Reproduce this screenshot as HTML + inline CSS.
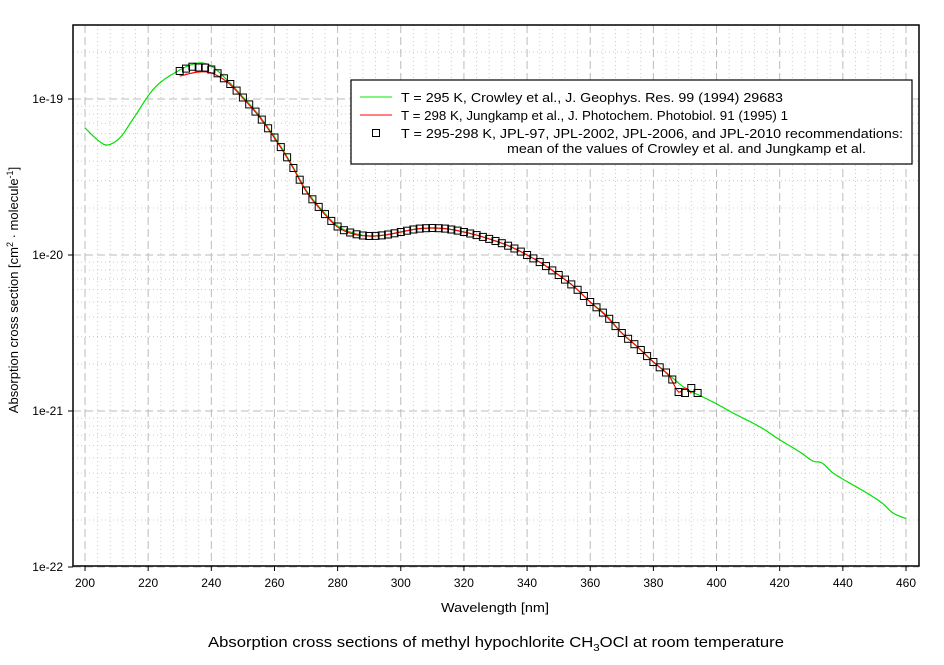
<!DOCTYPE html>
<html><head><meta charset="utf-8"><style>
body{margin:0;background:#fff;}
svg text{font-family:"Liberation Sans",Arial,sans-serif;}
</style></head><body>
<svg id="s" width="944" height="660" xmlns="http://www.w3.org/2000/svg">
<rect width="944" height="660" fill="#fff"/>
<g id="grid"></g>
<g id="data"></g>
<rect x="73" y="25" width="846" height="541" fill="none" stroke="#000" stroke-width="1.5"/>
<g id="ticks" font-size="12"></g>
<text x="495" y="612" font-size="12.5" text-anchor="middle" textLength="108" lengthAdjust="spacingAndGlyphs">Wavelength [nm]</text>
<text transform="translate(18,290) rotate(-90)" font-size="13" text-anchor="middle">Absorption cross section [cm<tspan dy="-5" font-size="9">2</tspan><tspan dy="5"> · molecule</tspan><tspan dy="-5" font-size="9">-1</tspan><tspan dy="5">]</tspan></text>
<text x="208" y="647" font-size="14.5" textLength="576" lengthAdjust="spacingAndGlyphs">Absorption cross sections of methyl hypochlorite CH<tspan dy="4" font-size="10">3</tspan><tspan dy="-4">OCl at room temperature</tspan></text>
<g>
<rect x="351" y="80" width="561" height="84" fill="#fff" stroke="#000" stroke-width="1.2"/>
<line x1="360" y1="97" x2="392" y2="97" stroke="#00ee00" stroke-width="1"/>
<line x1="360" y1="115" x2="392" y2="115" stroke="#ff0000" stroke-width="1"/>
<rect x="372.5" y="129.5" width="7" height="7" fill="none" stroke="#000"/>
<g font-size="13">
<text x="401" y="102" textLength="382" lengthAdjust="spacingAndGlyphs">T = 295 K, Crowley et al., J. Geophys. Res. 99 (1994) 29683</text>
<text x="401" y="120" textLength="387" lengthAdjust="spacingAndGlyphs">T = 298 K, Jungkamp et al., J. Photochem. Photobiol. 91 (1995) 1</text>
<text x="401" y="138" textLength="502" lengthAdjust="spacingAndGlyphs">T = 295-298 K, JPL-97, JPL-2002, JPL-2006, and JPL-2010 recommendations:</text>
<text x="507" y="153" textLength="359" lengthAdjust="spacingAndGlyphs">mean of the values of Crowley et al. and Jungkamp et al.</text>
</g>
</g>
</svg>
<script>
var NS="http://www.w3.org/2000/svg";
function X(w){return 85+(w-200)*(821/260);}
function Yl(l){return 99+(-19-l)*156;}
function el(p,t,a,txt){var e=document.createElementNS(NS,t);for(var k in a)e.setAttribute(k,a[k]);if(txt!==undefined)e.textContent=txt;p.appendChild(e);return e;}
var g=document.getElementById('grid'),tk=document.getElementById('ticks');
for(var w=200;w<=460;w+=4){var x=X(w);var maj=(w%20==0);
 el(g,'line',{x1:x,y1:25,x2:x,y2:566,stroke:maj?'#bbb':'#ccc','stroke-width':1,'stroke-dasharray':maj?'8,4':'1,3'});
 if(maj){el(tk,'line',{x1:x,y1:566,x2:x,y2:571,stroke:'#000'});el(tk,'text',{x:x,y:587,'text-anchor':'middle'},String(w));}}
for(var d=-22;d<=-19;d++){for(var m=1;m<=9;m++){var y=Yl(d+Math.log10(m));if(y<25)continue;
 el(g,'line',{x1:73,y1:y,x2:919,y2:y,stroke:m==1?'#bbb':'#ccc','stroke-width':1,'stroke-dasharray':m==1?'8,4':'1,3'});
 if(m==1){el(tk,'line',{x1:68,y1:y,x2:73,y2:y,stroke:'#000'});el(tk,'text',{x:63,y:y+4,'text-anchor':'end'},'1e'+d);}}}
var G=[[200,128],[204,140],[207,145],[211,138],[215,120],[222,88],[230,70],[236,63],[240,66],[245,80],[250,97],[255,115],[260,137],[265,162],[270,190],[275,210],[280,226],[285,233],[290,236],[295,235],[300,232],[305,229],[310,228],[315,229],[320,232],[325,236],[330,241],[335,247],[340,255],[345,264],[350,275],[355,287],[360,302],[365,315],[370,333],[375,347],[380,362],[385,375],[390,388],[395.7,397],[400.1,404],[405.2,413],[413.8,427],[420.1,440],[426.4,452],[430.5,461],[433.4,463],[436.9,473],[447.6,493],[452.4,503],[455.9,513],[460.3,519]];
var R=[[230,76],[236,72],[240,73],[245,82],[250,98],[255,116],[260,138],[265,163],[270,191],[275,211],[280,227],[285,234],[290,236],[295,235],[300,232],[305,229],[310,228],[315,229],[320,232],[325,236],[330,241],[335,247],[340,255],[345,264],[350,275],[355,287],[360,302],[365,316],[370,333],[375,347],[380,362],[385,376],[388,392],[390,388],[392,393]];
function interp(P,w){for(var i=0;i<P.length-1;i++){if(w>=P[i][0]&&w<=P[i+1][0]){var p0=P[Math.max(0,i-1)],p1=P[i],p2=P[i+1],p3=P[Math.min(P.length-1,i+2)];var t=(w-p1[0])/(p2[0]-p1[0]);
 var m1=(p2[1]-p0[1])/(p2[0]-p0[0])*(p2[0]-p1[0]),m2=(p3[1]-p1[1])/(p3[0]-p1[0])*(p2[0]-p1[0]);
 var t2=t*t,t3=t2*t;return (2*t3-3*t2+1)*p1[1]+(t3-2*t2+t)*m1+(-2*t3+3*t2)*p2[1]+(t3-t2)*m2;}}return P[P.length-1][1];}
function path(P,c){var s='';for(var w=P[0][0];w<=P[P.length-1][0];w+=0.5){s+=(s?'L':'M')+X(w).toFixed(1)+','+interp(P,w).toFixed(1);}
 el(document.getElementById('data'),'path',{d:s,fill:'none',stroke:c,'stroke-width':1.2});}
path(G,'#00e000');path(R,'#ff0000');
var dg=document.getElementById('data');
for(var w=230;w<=394;w+=2){var y;
 if(w<=244)y=(interp(G,w)+interp(R,w))/2+ (w<236?-2:0);else if(w<=386)y=(interp(G,w)+interp(R,w))/2;
 else y={388:392,390:393,392:388,394:393}[w];
 el(dg,'rect',{x:(X(w)-3.5).toFixed(1),y:(y-3.5).toFixed(1),width:7,height:7,fill:'none',stroke:'#000','stroke-width':1});}
</script>
</body></html>
